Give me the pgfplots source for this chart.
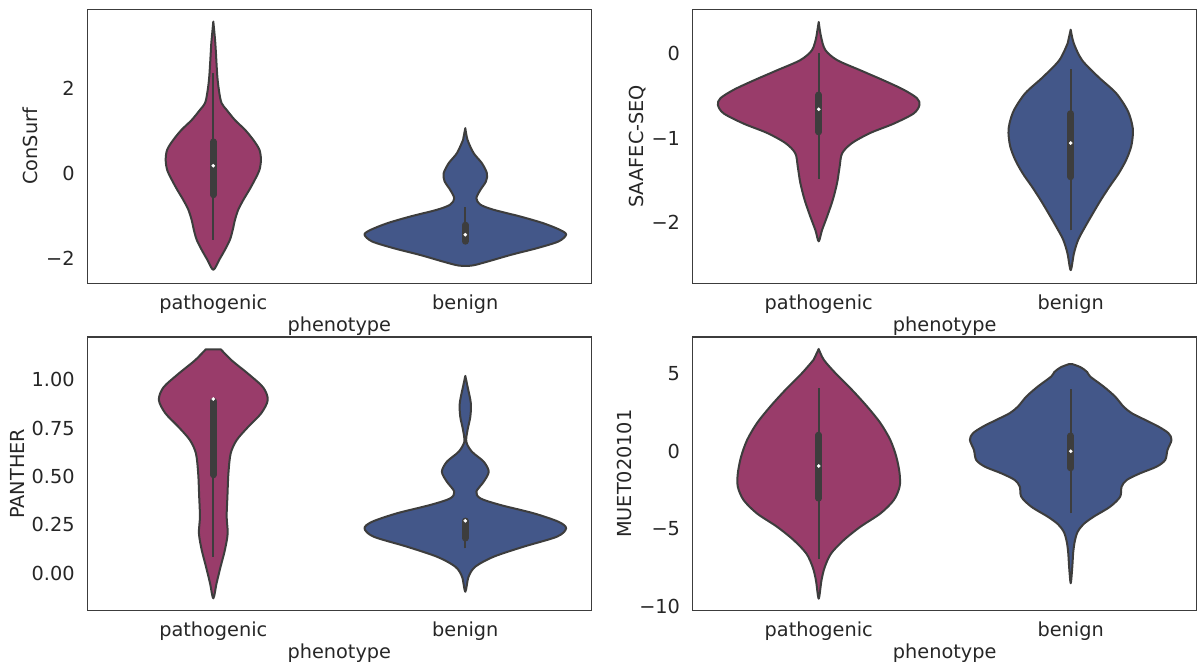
\documentclass[border=0pt]{standalone}
\usepackage{fontspec}
\setmainfont{DejaVu Sans}
\usepackage{pgfplots}
\pgfplotsset{compat=1.18}
\usepackage{pgfplotstable}
\definecolor{pathc}{RGB}{153,60,106}
\definecolor{benc}{RGB}{67,87,137}
\definecolor{linec}{RGB}{61,61,61}
\definecolor{framec}{RGB}{60,60,60}
\definecolor{textc}{RGB}{38,38,38}
\newcommand{\tfont}{\fontsize{19.3}{23}\selectfont}

% Each violin outline: value v and signed half-width w (category units),
% right side top->bottom, then left side bottom->top.
% ---------- ConSurf ----------
\pgfplotstableread{
v w
3.59 0
3.08 0.008
2.29 0.016
1.90 0.024
1.66 0.033
1.50 0.053
1.26 0.086
1.03 0.126
0.79 0.159
0.56 0.183
0.32 0.189
0.08 0.183
-0.15 0.165
-0.39 0.143
-0.63 0.119
-0.86 0.099
-1.10 0.086
-1.34 0.077
-1.57 0.066
-1.81 0.046
-2.04 0.024
-2.28 0
-2.04 -0.024
-1.81 -0.046
-1.57 -0.066
-1.34 -0.077
-1.10 -0.086
-0.86 -0.099
-0.63 -0.119
-0.39 -0.143
-0.15 -0.165
0.08 -0.183
0.32 -0.189
0.56 -0.183
0.79 -0.159
1.03 -0.126
1.26 -0.086
1.50 -0.053
1.66 -0.033
1.90 -0.024
2.29 -0.016
3.08 -0.008
}\CSpath
\pgfplotstableread{
v w
1.07 0
0.79 0.009
0.48 0.033
0.24 0.066
0.00 0.086
-0.19 0.082
-0.39 0.060
-0.59 0.044
-0.74 0.060
-0.86 0.112
-1.02 0.218
-1.18 0.310
-1.34 0.377
-1.45 0.400
-1.61 0.370
-1.77 0.284
-1.93 0.179
-2.09 0.086
-2.18 0.026
-2.18 -0.026
-2.09 -0.086
-1.93 -0.179
-1.77 -0.284
-1.61 -0.370
-1.45 -0.400
-1.34 -0.377
-1.18 -0.310
-1.02 -0.218
-0.86 -0.112
-0.74 -0.060
-0.59 -0.044
-0.39 -0.060
-0.19 -0.082
0.00 -0.086
0.24 -0.066
0.48 -0.033
0.79 -0.009
}\CSben
% ---------- SAAFEC-SEQ ----------
\pgfplotstableread{
v w
0.37 0
0.20 0.009
0.04 0.026
-0.08 0.073
-0.20 0.165
-0.32 0.258
-0.43 0.337
-0.53 0.390
-0.61 0.400
-0.71 0.377
-0.83 0.298
-0.94 0.205
-1.06 0.132
-1.18 0.093
-1.34 0.083
-1.53 0.073
-1.73 0.056
-1.93 0.033
-2.09 0.013
-2.22 0
-2.09 -0.013
-1.93 -0.033
-1.73 -0.056
-1.53 -0.073
-1.34 -0.083
-1.18 -0.093
-1.06 -0.132
-0.94 -0.205
-0.83 -0.298
-0.71 -0.377
-0.61 -0.400
-0.53 -0.390
-0.43 -0.337
-0.32 -0.258
-0.20 -0.165
-0.08 -0.073
0.04 -0.026
0.20 -0.009
}\SApath
\pgfplotstableread{
v w
0.28 0
0.12 0.012
-0.08 0.045
-0.28 0.110
-0.47 0.180
-0.67 0.225
-0.83 0.243
-0.94 0.247
-1.10 0.240
-1.26 0.220
-1.42 0.190
-1.57 0.155
-1.73 0.120
-1.89 0.088
-2.05 0.057
-2.20 0.030
-2.36 0.013
-2.56 0
-2.36 -0.013
-2.20 -0.030
-2.05 -0.057
-1.89 -0.088
-1.73 -0.120
-1.57 -0.155
-1.42 -0.190
-1.26 -0.220
-1.10 -0.240
-0.94 -0.247
-0.83 -0.243
-0.67 -0.225
-0.47 -0.180
-0.28 -0.110
-0.08 -0.045
0.12 -0.012
}\SAben
% ---------- PANTHER ----------
\pgfplotstableread{
v w
1.157 0.030
1.10 0.073
1.03 0.139
0.96 0.198
0.895 0.216
0.826 0.190
0.757 0.139
0.688 0.093
0.619 0.069
0.516 0.060
0.395 0.056
0.291 0.053
0.205 0.057
0.119 0.046
0.033 0.029
-0.053 0.013
-0.131 0
-0.053 -0.013
0.033 -0.029
0.119 -0.046
0.205 -0.057
0.291 -0.053
0.395 -0.056
0.516 -0.060
0.619 -0.069
0.688 -0.093
0.757 -0.139
0.826 -0.190
0.895 -0.216
0.96 -0.198
1.03 -0.139
1.10 -0.073
1.157 -0.030
}\PApath
\pgfplotstableread{
v w
1.02 0
0.964 0.009
0.878 0.022
0.809 0.020
0.74 0.009
0.679 0.004
0.628 0.026
0.576 0.073
0.524 0.093
0.472 0.073
0.421 0.044
0.386 0.060
0.352 0.139
0.309 0.271
0.265 0.370
0.231 0.400
0.188 0.364
0.136 0.231
0.084 0.112
0.033 0.040
-0.019 0.013
-0.097 0
-0.019 -0.013
0.033 -0.040
0.084 -0.112
0.136 -0.231
0.188 -0.364
0.231 -0.400
0.265 -0.370
0.309 -0.271
0.352 -0.139
0.386 -0.060
0.421 -0.044
0.472 -0.073
0.524 -0.093
0.576 -0.073
0.628 -0.026
0.679 -0.004
0.74 -0.009
0.809 -0.020
0.878 -0.022
0.964 -0.009
}\PAben
% ---------- MUET020101 ----------
\pgfplotstableread{
v w
6.58 0
5.89 0.020
5.03 0.066
3.95 0.132
2.88 0.192
1.81 0.245
0.73 0.284
-0.35 0.308
-1.42 0.321
-2.28 0.321
-3.14 0.298
-4.00 0.245
-4.86 0.165
-5.72 0.099
-6.58 0.049
-7.45 0.024
-8.30 0.011
-9.48 0
-8.30 -0.011
-7.45 -0.024
-6.58 -0.049
-5.72 -0.099
-4.86 -0.165
-4.00 -0.245
-3.14 -0.298
-2.28 -0.321
-1.42 -0.321
-0.35 -0.308
0.73 -0.284
1.81 -0.245
2.88 -0.192
3.95 -0.132
5.03 -0.066
5.89 -0.020
}\MUpath
\pgfplotstableread{
v w
5.60 0.008
5.40 0.040
5.10 0.065
4.81 0.077
4.17 0.130
3.52 0.176
2.88 0.209
2.45 0.242
2.02 0.295
1.59 0.348
1.16 0.388
0.73 0.400
0.08 0.384
-0.56 0.375
-0.99 0.341
-1.42 0.275
-1.85 0.222
-2.28 0.202
-2.93 0.196
-3.57 0.156
-4.22 0.090
-4.70 0.050
-5.20 0.027
-5.80 0.016
-6.50 0.010
-7.50 0.006
-8.49 0
-7.50 -0.006
-6.50 -0.010
-5.80 -0.016
-5.20 -0.027
-4.70 -0.050
-4.22 -0.090
-3.57 -0.156
-2.93 -0.196
-2.28 -0.202
-1.85 -0.222
-1.42 -0.275
-0.99 -0.341
-0.56 -0.375
0.08 -0.384
0.73 -0.400
1.16 -0.388
1.59 -0.348
2.02 -0.295
2.45 -0.242
2.88 -0.209
3.52 -0.176
4.17 -0.130
4.81 -0.077
5.10 -0.065
5.40 -0.040
5.60 -0.008
}\MUben

\newcommand{\violin}[3]{%
  \addplot[fill=#3, draw=linec, line width=2pt, line join=round, smooth, tension=0.5]
    table[x expr=#2+\thisrow{w}, y=v] {#1} -- cycle;
}
\newcommand{\vboxplot}[6]{%
  \addplot[linec, line width=2pt] coordinates {(#1,#2) (#1,#3)};
  \addplot[linec, line width=6.5pt, line cap=round] coordinates {(#1,#4) (#1,#5)};
  \addplot[only marks, mark=*, mark size=1.6pt, white] coordinates {(#1,#6)};
}

\pgfplotsset{
  vio/.style={
    scale only axis, width=504pt,
    xmin=-0.5, xmax=1.5, xtick={0,1}, xticklabels={pathogenic,benign},
    major tick length=0pt,
    axis line style={draw=framec, line width=1.25pt},
    tick label style={font=\tfont, text=textc},
    xticklabel style={anchor=north, inner sep=0pt, yshift=-11.7pt},
    yticklabel style={anchor=east, inner sep=0pt, xshift=-12.5pt},
    xlabel={phenotype},
    xlabel style={at={(axis description cs:0.5,0)}, anchor=north, inner sep=0pt, yshift=-33.8pt, font=\tfont, text=textc},
    ylabel style={anchor=center, inner sep=0pt, font=\tfont, text=textc},
  }
}

\begin{document}
\begin{tikzpicture}
\path[use as bounding box] (0,0) rectangle (1198pt,-666pt);

\begin{axis}[vio, at={(87.3pt,-9.3pt)}, anchor=north west, height=274pt,
  ymin=-2.60, ymax=3.88, ytick={-2,0,2}, yticklabels={−2,0,2},
  ylabel={ConSurf}, ylabel style={at={(axis description cs:-0.1125,0.5)}}]
\violin{\CSpath}{0}{pathc}
\violin{\CSben}{1}{benc}
\vboxplot{0}{-1.57}{2.37}{-0.51}{0.75}{0.18}
\vboxplot{1}{-1.61}{-0.80}{-1.61}{-1.22}{-1.45}
\end{axis}

\begin{axis}[vio, at={(692.7pt,-9.3pt)}, anchor=north west, height=274pt,
  ymin=-2.716, ymax=0.52, ytick={-2,-1,0}, yticklabels={−2,−1,0},
  ylabel={SAAFEC-SEQ}, ylabel style={at={(axis description cs:-0.1085,0.5)}}]
\violin{\SApath}{0}{pathc}
\violin{\SAben}{1}{benc}
\vboxplot{0}{-1.48}{0.0}{-0.93}{-0.49}{-0.66}
\vboxplot{1}{-2.09}{-0.18}{-1.46}{-0.71}{-1.06}
\end{axis}

\begin{axis}[vio, at={(87.3pt,-337pt)}, anchor=north west, height=273.3pt,
  ymin=-0.193, ymax=1.221, ytick={0,0.25,0.5,0.75,1}, yticklabels={0.00,0.25,0.50,0.75,1.00},
  ylabel={PANTHER}, ylabel style={at={(axis description cs:-0.139,0.5)}}]
\violin{\PApath}{0}{pathc}
\violin{\PAben}{1}{benc}
\vboxplot{0}{0.084}{0.90}{0.507}{0.89}{0.90}
\vboxplot{1}{0.128}{0.274}{0.18}{0.27}{0.27}
\end{axis}

\begin{axis}[vio, at={(692.7pt,-337pt)}, anchor=north west, height=273.3pt,
  ymin=-10.23, ymax=7.35, ytick={-10,-5,0,5}, yticklabels={−10,−5,0,5},
  ylabel={MUET020101}, ylabel style={at={(axis description cs:-0.1347,0.5)}}]
\violin{\MUpath}{0}{pathc}
\violin{\MUben}{1}{benc}
\vboxplot{0}{-6.9}{4.06}{-3.03}{1.05}{-0.95}
\vboxplot{1}{-3.98}{4.0}{-1.08}{1.0}{0.0}
\end{axis}
\end{tikzpicture}
\end{document}
